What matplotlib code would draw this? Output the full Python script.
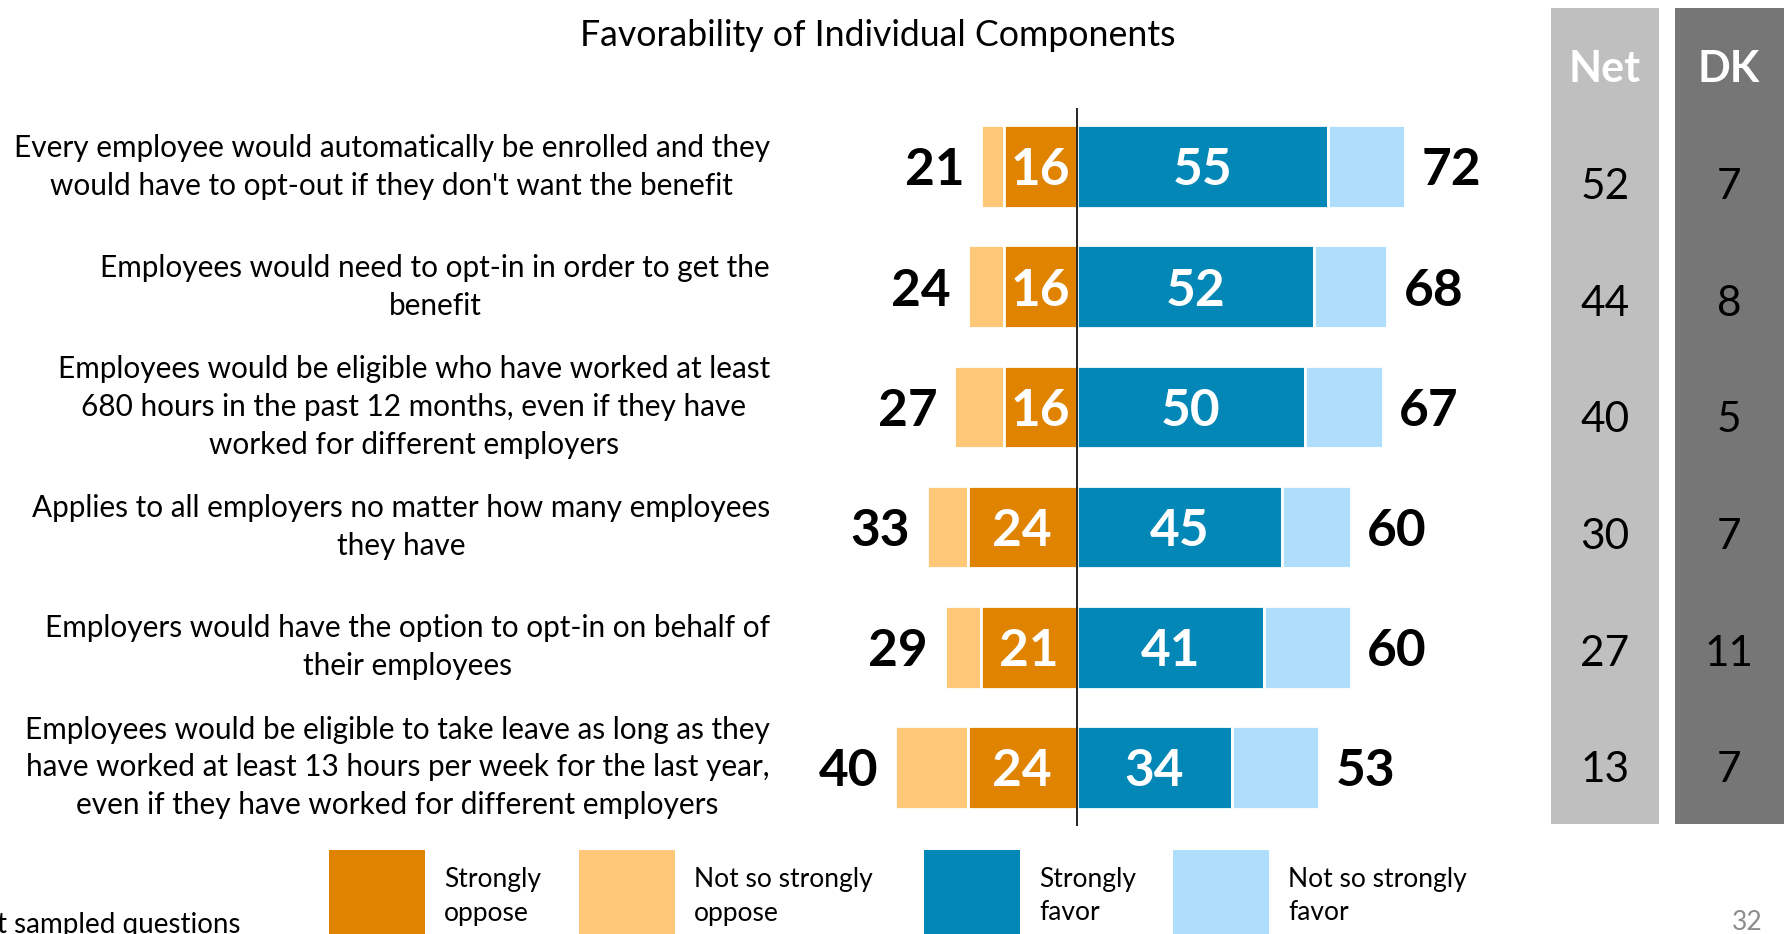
import matplotlib
matplotlib.use("Agg")
import matplotlib.pyplot as plt
from matplotlib import transforms
from matplotlib.patches import Rectangle

plt.rcParams['font.family'] = ['Lato', 'DejaVu Sans']

# survey items, top to bottom
items = [
    "Every employee would automatically be enrolled and they\nwould have to opt-out if they don't want the benefit",
    "Employees would need to opt-in in order to get the\nbenefit",
    "Employees would be eligible who have worked at least\n680 hours in the past 12 months, even if they have\nworked for different employers",
    "Applies to all employers no matter how many employees\nthey have",
    "Employers would have the option to opt-in on behalf of\ntheir employees",
    "Employees would be eligible to take leave as long as they\nhave worked at least 13 hours per week for the last year,\neven if they have worked for different employers",
]
strongly_oppose = [16, 16, 16, 24, 21, 24]
total_oppose = [21, 24, 27, 33, 29, 40]
strongly_favor = [55, 52, 50, 45, 41, 34]
total_favor = [72, 68, 67, 60, 60, 53]
net = [52, 44, 40, 30, 27, 13]
dont_know = [7, 8, 5, 7, 11, 7]

legend_labels = ["Strongly\noppose", "Not so strongly\noppose", "Strongly\nfavor", "Not so strongly\nfavor"]

c_so = "#E08300"
c_nso = "#FFC878"
c_sf = "#0287B6"
c_nsf = "#AEDEFC"
c_net = "#BFBFBF"
c_dk = "#767676"

W, H = 1787, 934
fig = plt.figure(figsize=(W / 100, H / 100), dpi=100)

# overlay in pixel coordinates for panels, legend and loose text
ov = fig.add_axes([0, 0, 1, 1])
ov.set_xlim(0, W)
ov.set_ylim(H, 0)
ov.axis("off")

# bar axes: 0 sits at x=1077px, 4.56 px per point
x0, ppu = 1077, 4.56
xl, xr = -75, 85
ax_left = (x0 + xl * ppu) / W
ax_w = (xr - xl) * ppu / W
ax = fig.add_axes([ax_left, 1 - 826 / H, ax_w, 718 / H])
ax.set_xlim(xl, xr)
ax.set_ylim(5.49, -0.49)
ax.axis("off")
ax.patch.set_alpha(0)

rows = list(range(len(items)))
nso = [t - s for t, s in zip(total_oppose, strongly_oppose)]
nsf = [t - s for t, s in zip(total_favor, strongly_favor)]
neg_total = [-t for t in total_oppose]
neg_so = [-s for s in strongly_oppose]

bh = 0.69
ax.barh(rows, nso, left=neg_total, height=bh, color=c_nso, edgecolor="white", linewidth=2)
ax.barh(rows, strongly_oppose, left=neg_so, height=bh, color=c_so, edgecolor="white", linewidth=2)
ax.barh(rows, strongly_favor, left=0, height=bh, color=c_sf, edgecolor="white", linewidth=2)
ax.barh(rows, nsf, left=strongly_favor, height=bh, color=c_nsf, edgecolor="white", linewidth=2)
ax.axvline(0, color="black", linewidth=1.2)

num_kw = dict(textcoords="offset points", va="center", fontsize=37, fontweight="bold")
for i in rows:
    ax.annotate(str(strongly_oppose[i]), (-strongly_oppose[i] / 2, i), xytext=(0, -3),
                ha="center", color="white", **num_kw)
    ax.annotate(str(strongly_favor[i]), (strongly_favor[i] / 2, i), xytext=(0, -3),
                ha="center", color="white", **num_kw)
    ax.annotate(str(total_oppose[i]), (-total_oppose[i], i), xytext=(-12, -3),
                ha="right", color="black", **num_kw)
    ax.annotate(str(total_favor[i]), (total_favor[i], i), xytext=(12, -3),
                ha="left", color="black", **num_kw)

# item labels, right aligned block with centred lines
lab_tr = transforms.blended_transform_factory(ov.transData, ax.transData)
for i, txt in enumerate(items):
    ax.text(770, i, txt, transform=lab_tr, ha="right", va="center",
            multialignment="center", fontsize=21.4, linespacing=1.42)

ov.text(878, 35, "Favorability of Individual Components", ha="center", va="center", fontsize=25.7)

# Net and DK columns
ov.add_patch(Rectangle((1551, 8), 108, 816, color=c_net, lw=0))
ov.add_patch(Rectangle((1675, 8), 109, 816, color=c_dk, lw=0))
ov.text(1605, 69, "Net", ha="center", va="center", color="white", fontsize=31, fontweight="bold")
ov.text(1729, 69, "DK", ha="center", va="center", color="white", fontsize=31, fontweight="bold")
col_y0, col_step = 187, 116.7
for i in rows:
    y = col_y0 + i * col_step
    ov.text(1605, y, str(net[i]), ha="center", va="center", fontsize=30.5)
    ov.text(1729, y, str(dont_know[i]), ha="center", va="center", fontsize=30.5)

# legend
leg_x = [329, 579, 924, 1173]
leg_c = [c_so, c_nso, c_sf, c_nsf]
for lx, lc, lt in zip(leg_x, leg_c, legend_labels):
    ov.add_patch(Rectangle((lx, 850), 96, 100, color=lc, lw=0, clip_on=False))
    ov.text(lx + 115, 896, lt, ha="left", va="center", fontsize=19, linespacing=1.45)

ov.text(-3, 925, "t sampled questions", ha="left", va="center", fontsize=20)
ov.text(1747, 922, "32", ha="center", va="center", fontsize=19, color="#8C8C8C")

fig.savefig("out.png", dpi=100)
